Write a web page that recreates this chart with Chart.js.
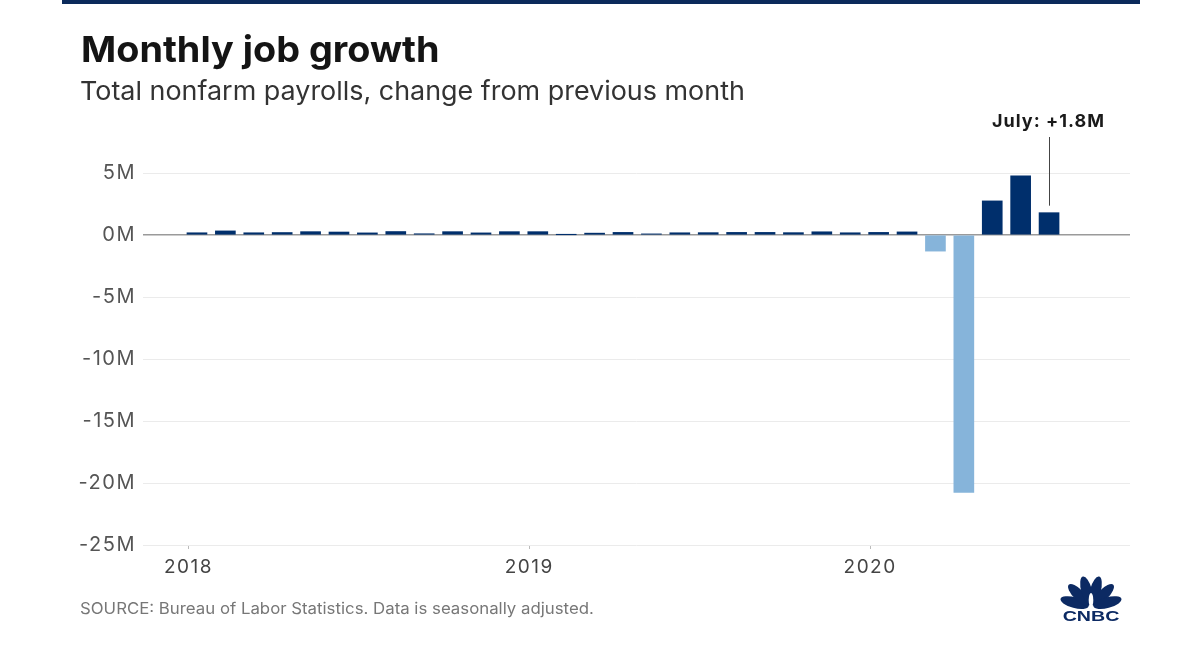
<!DOCTYPE html>
<html><head><meta charset="utf-8">
<script src="https://cdn.jsdelivr.net/npm/chart.js@4.4.0/dist/chart.umd.min.js"></script>
<style>
html,body{margin:0;padding:0;background:#fff;}
#wrap{position:relative;width:1200px;height:655px;overflow:hidden;}
#c{position:absolute;left:0;top:0;}
.t{position:absolute;font-family:Inter,Lato,sans-serif;white-space:nowrap;transform-origin:0 0;}
#bar{position:absolute;left:62px;top:0;width:1078px;height:4px;background:#0b2a5b;}
</style></head><body>
<div id="wrap">
<canvas id="c" width="1200" height="655"></canvas>
<div id="bar"></div>
<div class="t" style="left:81px;top:27px;font-size:36px;line-height:44px;font-weight:700;color:#141414;transform:scaleX(1.05);">Monthly job growth</div>
<div class="t" style="left:80px;top:75px;font-size:26px;line-height:32px;color:#333;transform:scaleX(1.035);">Total nonfarm payrolls, change from previous month</div>
<div class="t" style="left:80px;top:598px;font-size:16px;line-height:20px;color:#777;transform:scaleX(1.05);">SOURCE: Bureau of Labor Statistics. Data is seasonally adjusted.</div>
</div>
<script>
// Months Jan 2018 .. Jul 2020
const monthLabels = [
 'Jan 2018','Feb 2018','Mar 2018','Apr 2018','May 2018','Jun 2018','Jul 2018','Aug 2018','Sep 2018','Oct 2018','Nov 2018','Dec 2018',
 'Jan 2019','Feb 2019','Mar 2019','Apr 2019','May 2019','Jun 2019','Jul 2019','Aug 2019','Sep 2019','Oct 2019','Nov 2019','Dec 2019',
 'Jan 2020','Feb 2020','Mar 2020','Apr 2020','May 2020','Jun 2020','Jul 2020'];
// change in payrolls, millions
const jobChange = [
 0.18,0.33,0.18,0.20,0.27,0.24,0.17,0.28,0.10,0.27,0.17,0.27,
 0.27,0.02,0.15,0.21,0.09,0.18,0.19,0.21,0.21,0.19,0.26,0.18,
 0.21,0.25,-1.30,-20.75,2.75,4.78,1.80];
const yearLabels = ['2018','2019','2020'];
const yTickValues = [5,0,-5,-10,-15,-20,-25];
const annotationText = 'July: +1.8M';

const NAVY = '#002f6c';
const LIGHT = '#86b4da';
const FONT = 'Inter, Lato, sans-serif';

const spacingPlugin = {
  id:'spacing',
  beforeDraw(chart){ chart.ctx.letterSpacing = '1.5px'; },
  beforeDatasetsDraw(chart){ chart.ctx.letterSpacing = '0px'; }
};

const extrasPlugin = {
  id:'extras',
  afterDatasetsDraw(chart){
    const ctx = chart.ctx;
    const xs = chart.scales.x, ys = chart.scales.y;
    const last = jobChange.length-1;
    const px = Math.round(xs.getPixelForValue(last))+0.5;
    const py = ys.getPixelForValue(jobChange[last]);
    ctx.save();
    ctx.strokeStyle = '#444'; ctx.lineWidth = 1;
    ctx.beginPath(); ctx.moveTo(px, py-7); ctx.lineTo(px, chart.chartArea.top-36); ctx.stroke();
    ctx.fillStyle = '#1a1a1a';
    ctx.font = 'bold 18px ' + FONT;
    ctx.letterSpacing = '1px';
    ctx.textAlign = 'center'; ctx.textBaseline = 'middle';
    ctx.fillText(annotationText, px - 1, chart.chartArea.top-51);
    ctx.letterSpacing = '0px';
    // CNBC peacock logo
    const cx = 1091, cy = 607;
    ctx.fillStyle = '#0c2a63';
    for(let k=0;k<6;k++){
      const a = Math.PI*(1 - (k+0.5)/6);
      const r = 17;
      ctx.save();
      ctx.translate(cx + Math.cos(a)*r, cy - Math.sin(a)*r);
      ctx.rotate(-a);
      ctx.beginPath(); ctx.ellipse(0,0,14.5,5.4,0,0,Math.PI*2); ctx.fill();
      ctx.restore();
    }
    ctx.fillStyle='#fff';
    ctx.beginPath(); ctx.ellipse(cx, cy-7, 2.3, 7, 0, 0, Math.PI*2); ctx.fill();
    ctx.fillStyle = '#0c2a63';
    ctx.save();
    ctx.translate(cx, 621);
    ctx.scale(1.4, 1);
    ctx.font = '900 14px "Liberation Sans", Arial, sans-serif';
    ctx.textBaseline='alphabetic';
    ctx.fillText('CNBC', 0, 0);
    ctx.restore();
    ctx.restore();
  }
};

new Chart(document.getElementById('c'), {
  type:'bar',
  data:{
    datasets:[{
      label:'Monthly job change',
      data: jobChange.map((v,i)=>({x:i,y:v})),
      backgroundColor: jobChange.map(v=> v<0 ? LIGHT : NAVY),
      barThickness:20,
      borderWidth:0
    }]
  },
  options:{
    responsive:false, animation:false,
    layout:{padding:{left:0,right:70,top:173,bottom:70}},
    plugins:{legend:{display:false},tooltip:{enabled:false}},
    scales:{
      x:{
        type:'linear', min:-1.9, max:32.85, offset:false,
        afterBuildTicks(s){ s.ticks = yearLabels.map((y,i)=>({value: i*12 - 0.3})); },
        afterFit(s){ s.height = 40; },
        grid:{offset:false, drawOnChartArea:false, drawTicks:true, tickLength:4, color:'#bbb'},
        border:{display:false},
        ticks:{callback:(v,i)=>yearLabels[i], color:'#444', padding:7, maxRotation:0,
          font:{family:FONT, size:19}}
      },
      y:{
        min:-25, max:5,
        afterBuildTicks(s){ s.ticks = yTickValues.map(v=>({value:v})); },
        afterFit(s){ s.width = 143; },
        grid:{drawTicks:false, color:(c)=> c.tick && c.tick.value===0 ? '#9a9a9a' : '#ebebeb', lineWidth:(c)=> c.tick && c.tick.value===0 ? 1.5 : 1},
        border:{display:false},
        ticks:{callback:v=> v+'M', color:'#555', padding:7,
          font:{family:FONT, size:20}}
      }
    }
  },
  plugins:[spacingPlugin, extrasPlugin]
});
</script>
</body></html>
